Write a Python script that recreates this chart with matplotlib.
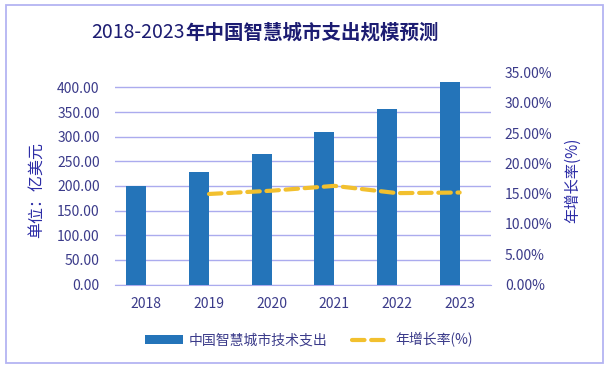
import numpy as np
import matplotlib
matplotlib.use("Agg")
import matplotlib.pyplot as plt
from matplotlib.patches import Rectangle
from matplotlib.ticker import FuncFormatter

plt.rcParams['font.family'] = ['Noto Sans CJK SC', 'DejaVu Sans']

# data
years = ["2018", "2019", "2020", "2021", "2022", "2023"]
spend = [200, 228, 265, 310, 357, 411]              # 亿美元
growth_years = ["2019", "2020", "2021", "2022", "2023"]
growth = [0.1496, 0.155, 0.163, 0.151, 0.152]       # 年增长率

left_ticks = [0, 50, 100, 150, 200, 250, 300, 350, 400]
right_ticks = [0, 0.05, 0.10, 0.15, 0.20, 0.25, 0.30, 0.35]

NAVY = "#1c1c72"
TICK = "#3b3b8a"
LABEL = "#2c2ca6"
GRID = "#ababee"
BAR = "#2474b9"
LINE = "#f2c02e"

W, H = 608, 367
fig = plt.figure(figsize=(W / 100, H / 100), dpi=100)
fig.patch.set_facecolor("white")

# axes box in pixels: x 115..491, y 72.7..284.5
ax = fig.add_axes([115 / W, 1 - 284.5 / H, 376 / W, 211.8 / H])
x = np.arange(len(years))
bars = ax.bar(x - 0.16, spend, width=0.32, color=BAR, zorder=3,
              label="中国智慧城市技术支出")
ax.set_xlim(-0.5, 5.5)
ax.set_ylim(0, 211.8 / 0.4925)
ax.set_yticks(left_ticks)
ax.yaxis.set_major_formatter(FuncFormatter(lambda v, p: f"{v:.2f}"))
ax.set_xticks(x)
ax.set_xticklabels(years)
ax.grid(axis="y", color=GRID, lw=1.0, zorder=0)
for s in ["top", "right", "left"]:
    ax.spines[s].set_visible(False)
ax.spines["bottom"].set_color(GRID)
ax.tick_params(axis="y", length=0, pad=11, labelsize=10, labelcolor=TICK)
ax.tick_params(axis="x", length=0, pad=9, labelsize=10, labelcolor=TICK)

ax2 = ax.twinx()
gx = [years.index(y) for y in growth_years]
line, = ax2.plot(gx, growth, color=LINE, lw=3.0, dashes=(3.0, 1.6),
                 solid_capstyle="round", dash_capstyle="round", zorder=4,
                 label="年增长率(%)")
ax2.set_ylim(0, 0.35)
ax2.set_yticks(right_ticks)
ax2.yaxis.set_major_formatter(FuncFormatter(lambda v, p: f"{v * 100:.2f}%"))
for s in ["top", "right", "left", "bottom"]:
    ax2.spines[s].set_visible(False)
ax2.tick_params(axis="y", length=0, pad=10, labelsize=10, labelcolor=TICK)

# title: digits regular, Chinese part bold
fig.text(185 / W, 1 - 33 / H, "2018-2023", ha="right", va="center",
         fontsize=14, color=NAVY)
fig.text(185 / W, 1 - 33 / H, "年中国智慧城市支出规模预测", ha="left",
         va="center", fontsize=14, color=NAVY, fontweight="bold")

fig.text(36 / W, 1 - 190 / H, "单位：亿美元", rotation=90, ha="center",
         va="center", fontsize=11.5, color=LABEL)
fig.text(573 / W, 1 - 180 / H, "年增长率(%)", rotation=90, ha="center",
         va="center", fontsize=11, color=LABEL)

fig.legend([bars, line], ["中国智慧城市技术支出", "年增长率(%)"],
           loc="center", bbox_to_anchor=(309 / W, 1 - 340 / H), ncol=2,
           frameon=False, fontsize=10, handlelength=2.7, handleheight=0.6,
           handletextpad=0.4, columnspacing=1.8, labelcolor=TICK)

# outer lavender frame
fig.patches.append(Rectangle((5.5 / W, 1 - 362.5 / H), 597.5 / W, 357.5 / H,
                             transform=fig.transFigure, fill=False,
                             edgecolor="#b4b4f2", lw=1.3))

fig.savefig("out.png", dpi=100)
